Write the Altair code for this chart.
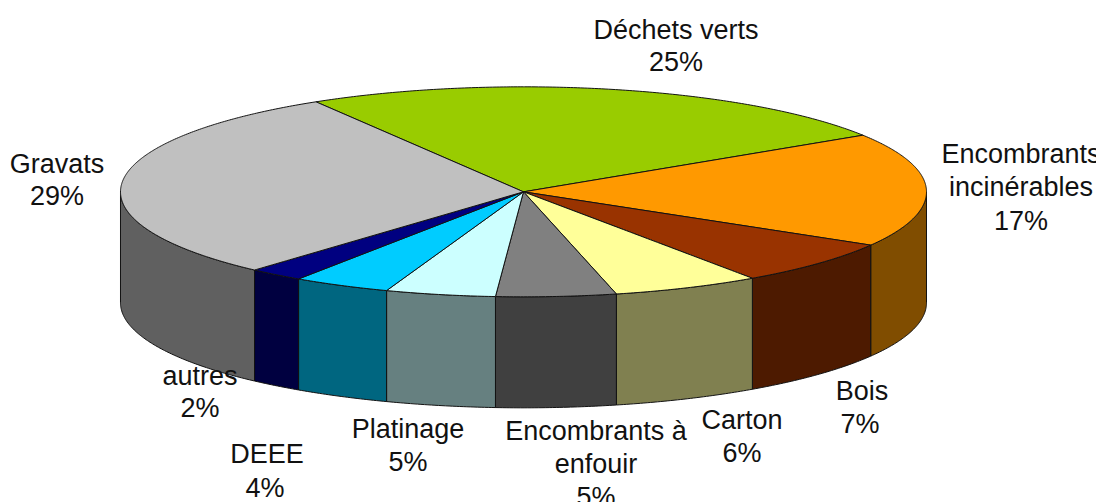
import math
import altair as alt
import pandas as pd

names = ["Déchets verts", "Encombrants incinérables", "Bois", "Carton",
         "Encombrants à enfouir", "Platinage", "DEEE", "autres", "Gravats"]
# shares as drawn (the printed labels are rounded)
shares = [24.5, 17.5, 6.9, 5.9, 4.8, 4.4, 3.9, 2.2, 29.7]
top_colors = ["#99CC00", "#FF9900", "#993300", "#FFFF99", "#808080",
              "#CCFFFF", "#00CCFF", "#000080", "#C0C0C0"]
side_colors = ["#4D6600", "#804D00", "#4D1A00", "#808050", "#404040",
               "#668080", "#006680", "#000040", "#606060"]

label_lines = [
    ("Déchets verts", 676, 29), ("25%", 676, 61),
    ("Encombrants", 1021, 153), ("incinérables", 1021, 186), ("17%", 1021, 220),
    ("Bois", 862, 390), ("7%", 860, 423),
    ("Carton", 742, 419), ("6%", 742, 452),
    ("Encombrants à", 596, 430), ("enfouir", 596, 463), ("5%", 596, 496),
    ("Platinage", 408, 428), ("5%", 408, 461),
    ("DEEE", 267, 453), ("4%", 265, 487),
    ("autres", 200, 375), ("2%", 200, 407),
    ("Gravats", 57, 163), ("29%", 57, 195),
]

CX, CY, RX, RY, DEPTH = 523.5, 190.0, 403.0, 105.0, 111.0
START = -31.0


def pt(a):
    r = math.radians(a)
    return CX + RX * math.sin(r), CY - RY * math.cos(r)


def arc(a0, a1):
    n = max(2, int(abs(a1 - a0) * 2))
    return [pt(a0 + (a1 - a0) * i / n) for i in range(n + 1)]


def spans(poly):
    """Top and bottom edge of a convex polygon at each of its vertices' x."""
    out = []
    m = len(poly)
    for x in sorted({p[0] for p in poly}):
        ys = []
        for i in range(m):
            (x0, y0), (x1, y1) = poly[i], poly[(i + 1) % m]
            if min(x0, x1) <= x <= max(x0, x1):
                if x0 == x1:
                    ys += [y0, y1]
                else:
                    ys.append(y0 + (y1 - y0) * (x - x0) / (x1 - x0))
        out.append((x, min(ys), max(ys)))
    return out


total = sum(shares)
tops, sides = [], []
a = START
for i, name in enumerate(names):
    b = a + shares[i] / total * 360
    for x, y, y2 in spans([(CX, CY)] + arc(a, b)):
        tops.append({"name": name, "x": x, "y": y, "y2": y2})
    s0, s1 = max(a, 90), min(b, 270)
    if s1 > s0:
        for x, y in sorted(arc(s0, s1)):
            sides.append({"name": name + " side", "x": x, "y": y, "y2": y + DEPTH})
    a = b

W, H = 1096, 498
K = 1088 / 1096  # the page fits the drawing into its 1088px body
x_scale = alt.Scale(domain=[8, 8 + W * K], nice=False, zero=False)
y_scale = alt.Scale(domain=[8 + H * K, 8], nice=False, zero=False)


def layer(rows, domain, colors):
    return alt.Chart(pd.DataFrame(rows)).mark_area(
        orient="vertical", stroke="#111111", strokeWidth=1, strokeJoin="round", opacity=1
    ).encode(
        x=alt.X("x:Q", scale=x_scale, axis=None),
        y=alt.Y("y:Q", scale=y_scale, axis=None),
        y2="y2:Q",
        color=alt.Color("name:N", scale=alt.Scale(domain=domain, range=colors), legend=None),
    )


labels = alt.Chart(pd.DataFrame(label_lines, columns=["t", "x", "y"])).mark_text(
    font="Liberation Sans", fontSize=27.2, color="#111111", align="center", baseline="middle"
).encode(
    x=alt.X("x:Q", scale=x_scale, axis=None),
    y=alt.Y("y:Q", scale=y_scale, axis=None),
    text="t:N",
)

chart = alt.layer(
    layer(sides, [n + " side" for n in names], side_colors),
    layer(tops, names, top_colors),
    labels,
).resolve_scale(color="independent").properties(
    width=W, height=H, padding=0,
    autosize=alt.AutoSizeParams(type="none"),
    background="white",
).configure_view(stroke=None)

chart.save("out.html", embed_options={"renderer": "svg", "actions": False})
